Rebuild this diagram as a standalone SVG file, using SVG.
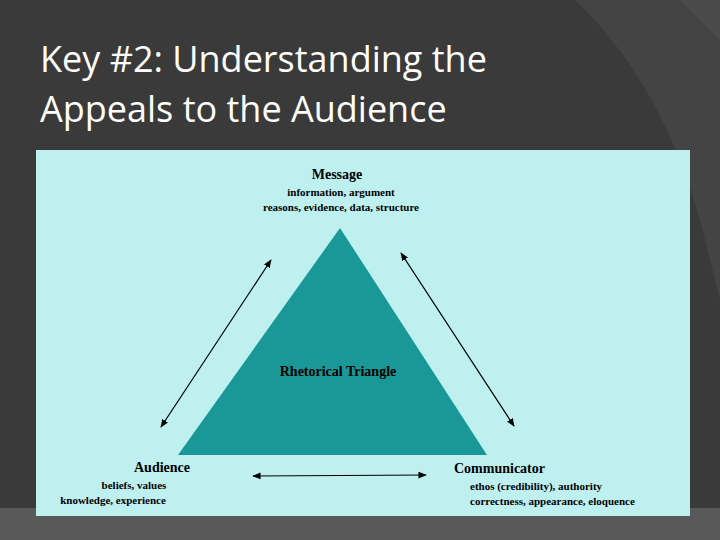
<svg xmlns="http://www.w3.org/2000/svg" width="720" height="540" viewBox="0 0 720 540">
<defs>
<style>
.t{font-family:"Liberation Serif",serif;fill:#000;font-weight:bold}
.h{font-size:14px}
.s{font-size:11px}
.c{stroke:#000;stroke-width:1.2;fill:none;marker-start:url(#a);marker-end:url(#a)}
</style>
<marker id="a" viewBox="0 0 10 10" refX="9" refY="5" markerWidth="7" markerHeight="7" orient="auto-start-reverse"><path d="M0,1 L10,5 L0,9 Z" fill="#000"/></marker>
</defs>
<rect width="720" height="540" fill="#3a3a3a"/>
<path d="M575,0 Q660,80 700,220 L720,300 L720,0 Z" fill="#444"/>
<path d="M680,0 L720,0 L720,40 Z" fill="#4a4a4a"/>
<rect x="0" y="508" width="720" height="32" fill="#595959"/>
<text x="40" y="72" font-family="Open Sans, sans-serif" font-size="36" fill="#fff">Key #2: Understanding the</text>
<text x="40" y="122" font-family="Open Sans, sans-serif" font-size="36" fill="#fff">Appeals to the Audience</text>
<rect x="36" y="150" width="654" height="366" fill="#bff0f0"/>
<g id="triangle"><path d="M340,228 L178,455 L487,455 Z" fill="#1a9898"/><text class="t h" x="338" y="376" text-anchor="middle" font-size="13">Rhetorical Triangle</text></g>
<g id="message"><text class="t h" x="337" y="179" text-anchor="middle">Message</text>
<text class="t s" x="341" y="196" text-anchor="middle">information, argument</text>
<text class="t s" x="341" y="211" text-anchor="middle">reasons, evidence, data, structure</text></g>
<g id="audience"><text class="t h" x="162" y="472" text-anchor="middle">Audience</text>
<text class="t s" x="134" y="489" text-anchor="middle">beliefs, values</text>
<text class="t s" x="113" y="504" text-anchor="middle">knowledge, experience</text></g>
<g id="communicator"><text class="t h" x="454" y="473">Communicator</text>
<text class="t s" x="470" y="490">ethos (credibility), authority</text>
<text class="t s" x="470" y="505">correctness, appearance, eloquence</text></g>
<g id="connectors">
<line class="c" x1="271" y1="260" x2="161" y2="427"/>
<line class="c" x1="401" y1="253" x2="514" y2="426"/>
<line class="c" x1="253" y1="476" x2="426" y2="475"/>
</g>
</svg>
